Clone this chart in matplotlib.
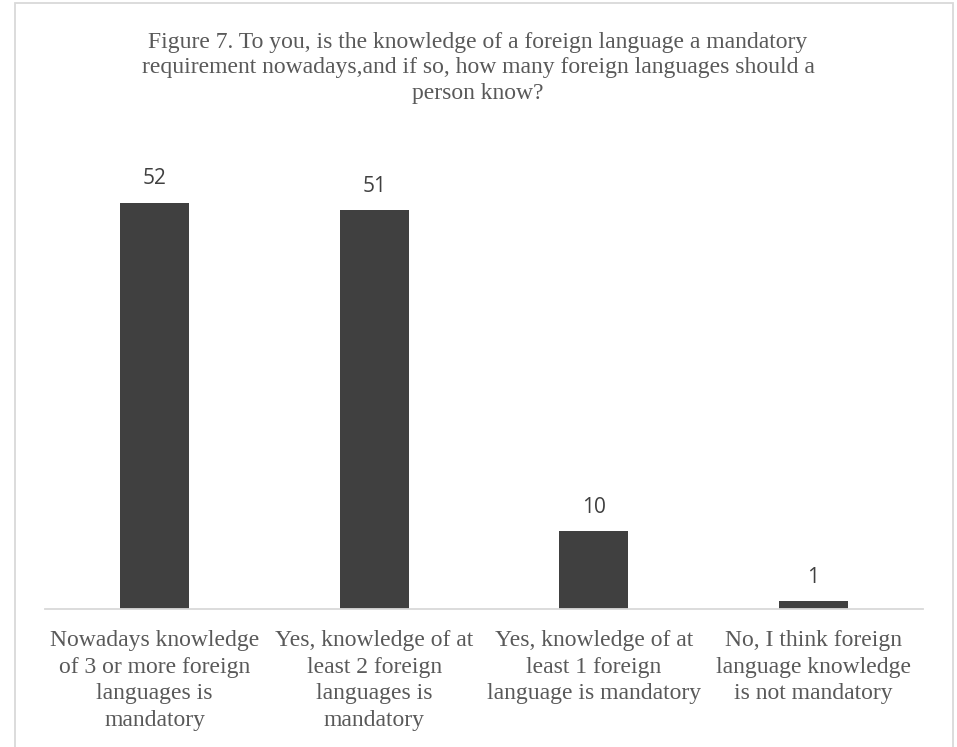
import matplotlib

matplotlib.use("Agg")

import matplotlib.pyplot as plt  # noqa: E402
from matplotlib.patches import Rectangle  # noqa: E402

# survey answers and counts
categories = [
    "Nowadays knowledge\nof 3 or more foreign\nlanguages is\nmandatory",
    "Yes, knowledge of at\nleast 2 foreign\nlanguages is\nmandatory",
    "Yes, knowledge of at\nleast 1 foreign\nlanguage is mandatory",
    "No, I think foreign\nlanguage knowledge\nis not mandatory",
]
counts = [52, 51, 10, 1]

title = (
    "Figure 7. To you, is the knowledge of a foreign language a mandatory\n"
    "requirement nowadays,and if so, how many foreign languages should a\n"
    "person know?"
)

BAR_COLOR = "#404040"
TEXT_COLOR = "#595959"
GRID_COLOR = "#d9d9d9"
SERIF = ["Liberation Serif", "DejaVu Serif"]

W, H = 957, 747
fig = plt.figure(figsize=(W / 100, H / 100), dpi=100, facecolor="white")

# chart frame
fig.add_artist(Rectangle((15 / W, -0.02), (953 - 15) / W, (H - 3) / H + 0.02,
                         transform=fig.transFigure, fill=False,
                         edgecolor=GRID_COLOR, linewidth=1.3))

ax = fig.add_axes([45 / W, (H - 609) / H, (923 - 45) / W, (609 - 140) / H])
x = range(len(counts))
bars = ax.bar(x, counts, width=0.315, color=BAR_COLOR, zorder=2)
ax.set_xlim(-0.5, len(counts) - 0.5)
ax.set_ylim(0, 60)

for rect, v in zip(bars, counts):
    ax.annotate(str(v), (rect.get_x() + rect.get_width() / 2, v),
                xytext=(0, 13), textcoords="offset points",
                ha="center", va="baseline", fontsize=15,
                family=["Open Sans", "DejaVu Sans"], color=BAR_COLOR)

ax.set_yticks([])
ax.set_xticks(list(x))
ax.set_xticklabels(categories, family=SERIF, fontsize=17, color=TEXT_COLOR,
                   linespacing=1.36)
ax.tick_params(axis="x", length=0, pad=15)
for side in ("top", "right", "left"):
    ax.spines[side].set_visible(False)
ax.spines["bottom"].set_color(GRID_COLOR)
ax.spines["bottom"].set_linewidth(1.3)

fig.text(478 / W, 1 - 32 / H, title, ha="center", va="top", family=SERIF,
         fontsize=17, color=TEXT_COLOR, linespacing=1.28)

fig.savefig("out.png", dpi=100, facecolor="white")
